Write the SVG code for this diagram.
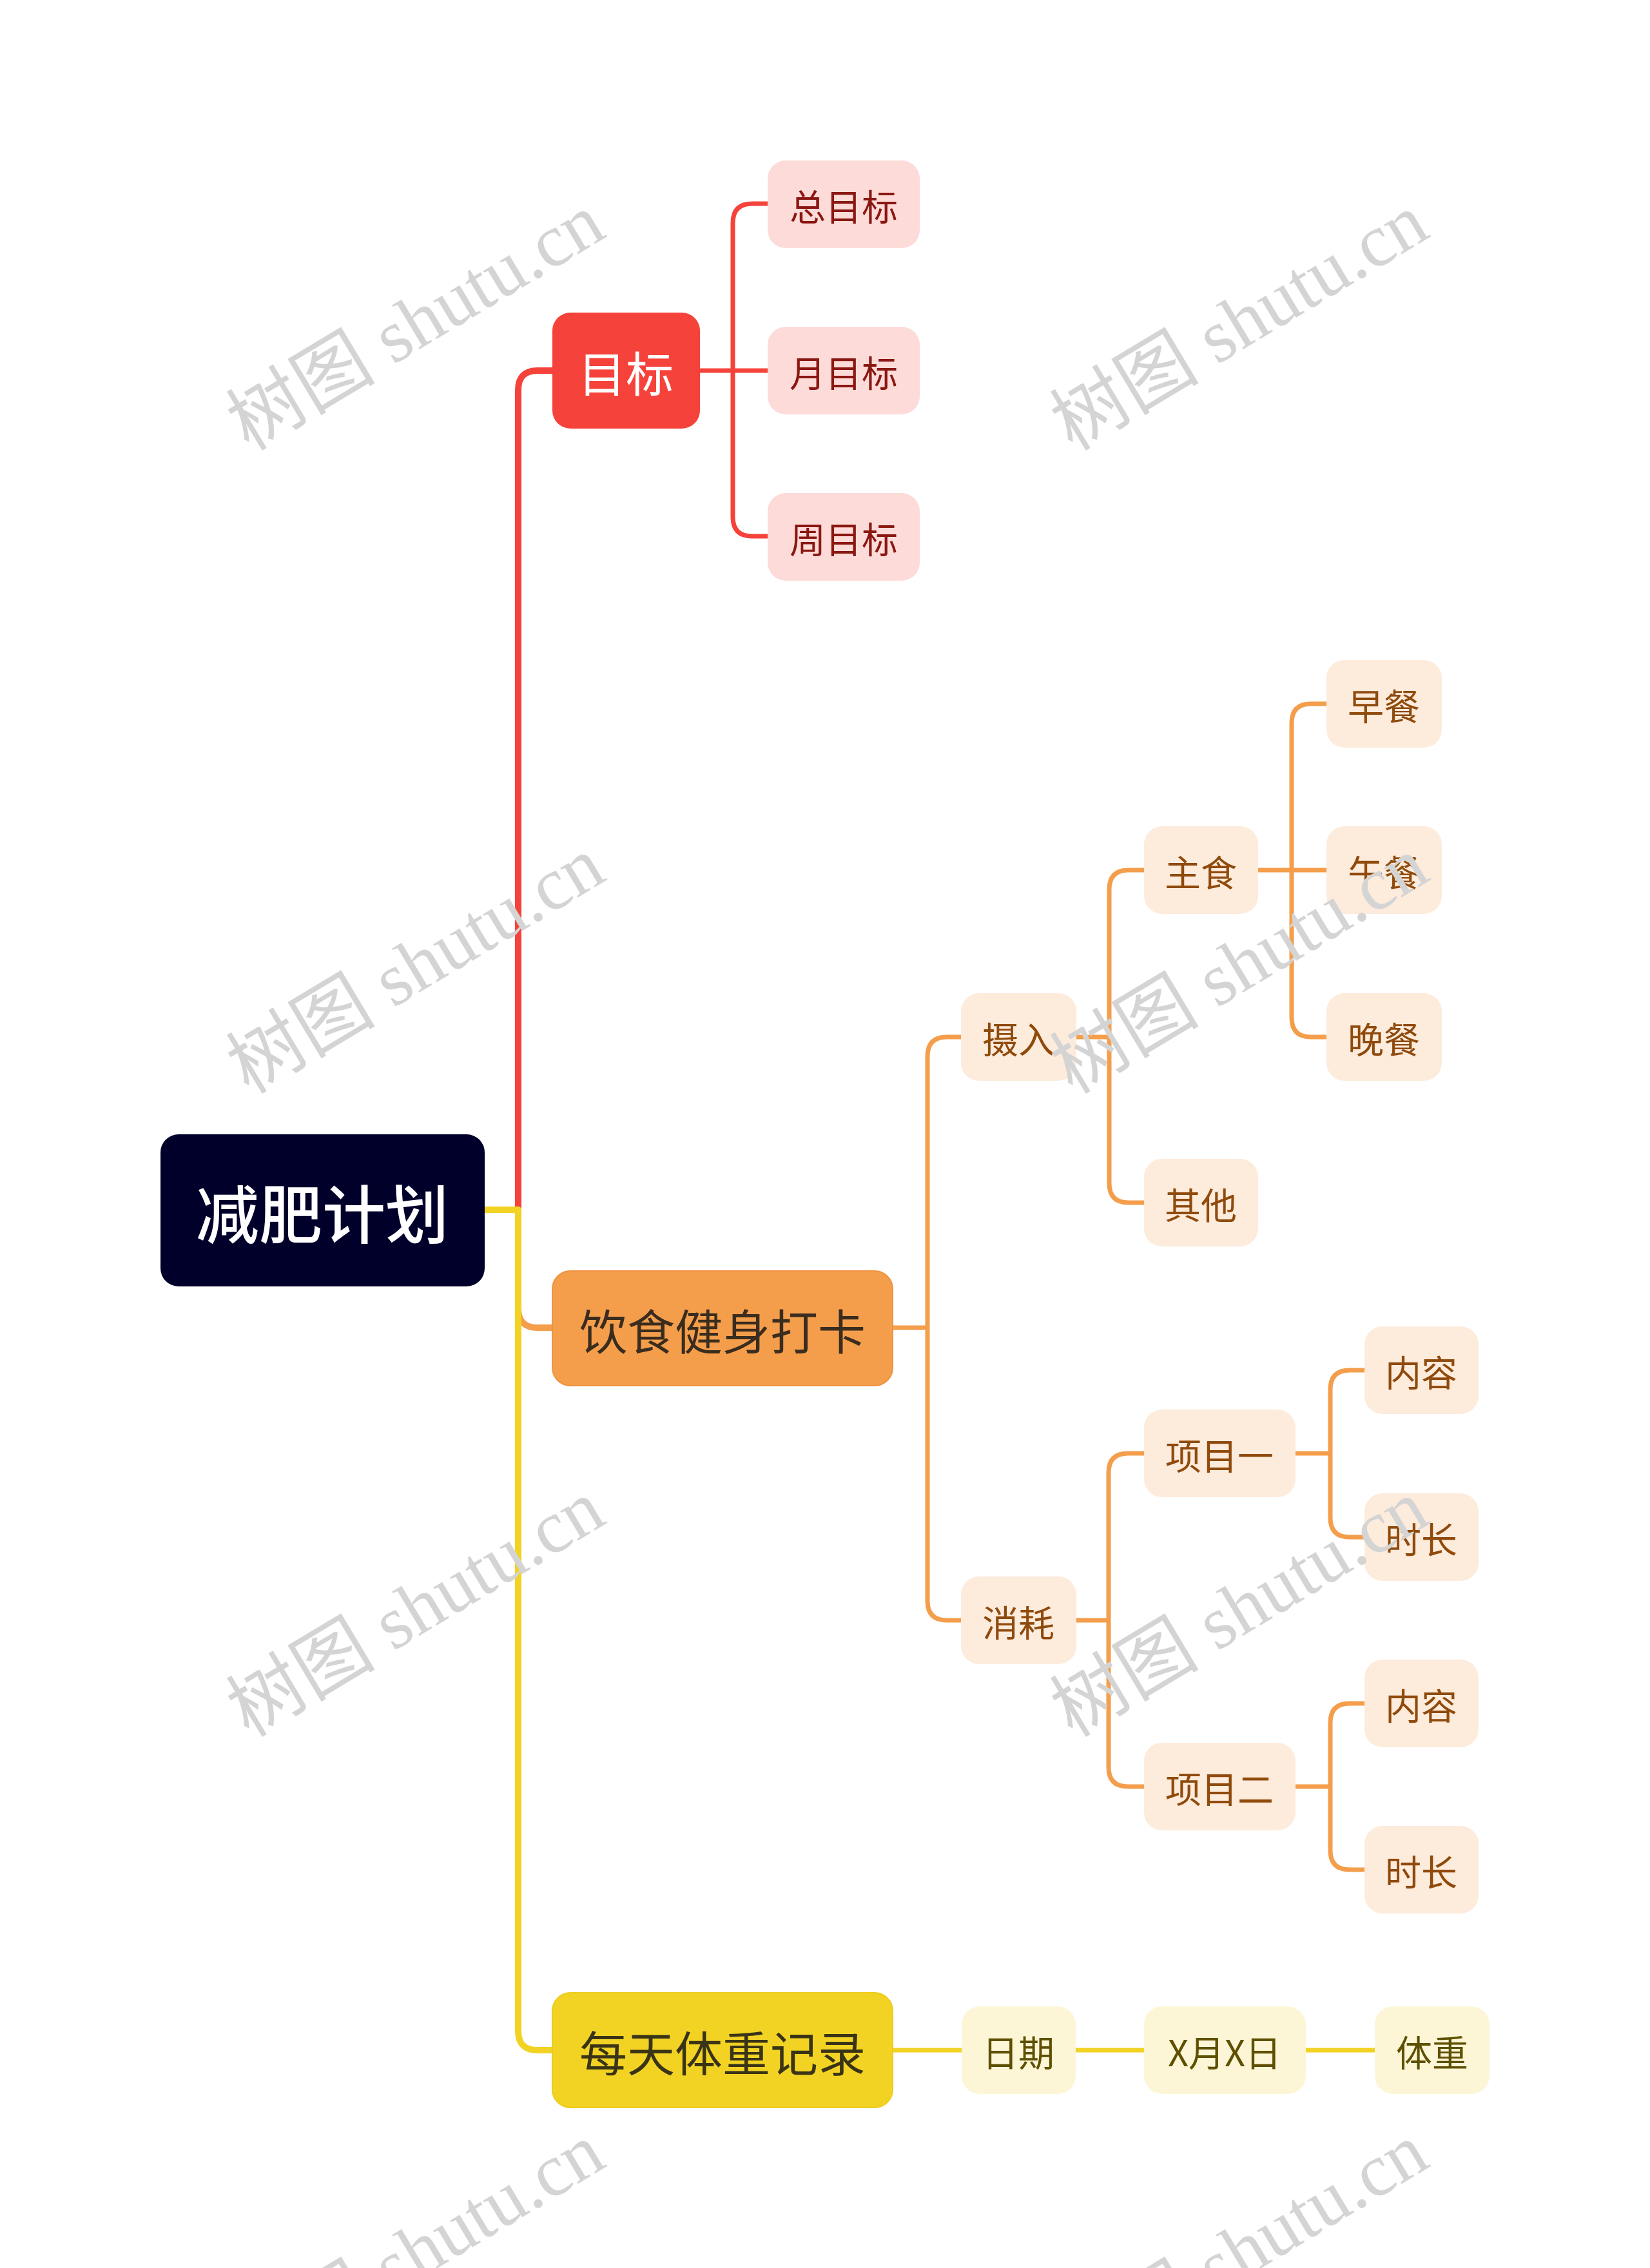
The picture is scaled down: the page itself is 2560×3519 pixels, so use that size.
<svg xmlns="http://www.w3.org/2000/svg" width="2560" height="3519" viewBox="0 0 2560 3519">
<defs>
<style>
.t{font-family:"Noto Sans CJK SC","Noto Sans",sans-serif;text-anchor:middle;dominant-baseline:central}
.l1{font-size:74px}
.l2{font-size:56px}
.wm{font-family:"Liberation Serif","Noto Sans CJK SC",serif;font-size:116px;fill:#d4d4d4}
.c{fill:none;stroke-linecap:butt;stroke-linejoin:round}
.r{stroke:#f5433b}
.o{stroke:#f49e4c}
.y{stroke:#f2d324}
.w1{stroke-width:10}
.w2{stroke-width:7}
.pr{fill:#fddbd9}
.po{fill:#fdebdc}
.py{fill:#fcf6d6}
.tr{fill:#8a1711}
.to{fill:#8f4a0c}
.ty{fill:#5e5000}
</style>
</defs>
<rect width="2560" height="3519" fill="#ffffff"/>
<g id="connectors">
<path class="c r w1" d="M752 1877 H804 V605 Q804 575 834 575 H858"/>
<path class="c o w1" d="M752 1877 H804 V2030 Q804 2060 834 2060 H858"/>
<path class="c y w1" d="M752 1877 H804 V3151 Q804 3181 834 3181 H858"/>
<path class="c r w2" d="M1085 575 H1191 M1137 575 V346 Q1137 316 1167 316 H1191 M1137 575 V802 Q1137 832 1167 832 H1191"/>
<path class="c o w2" d="M1384 2060 H1439 M1439 2060 V1639 Q1439 1609 1469 1609 H1491 M1439 2060 V2484 Q1439 2514 1469 2514 H1491"/>
<path class="c o w2" d="M1669 1609 H1721 M1721 1609 V1380 Q1721 1350 1751 1350 H1775 M1721 1609 V1836 Q1721 1866 1751 1866 H1775"/>
<path class="c o w2" d="M1951 1350 H2058 M2004 1350 V1122 Q2004 1092 2034 1092 H2058 M2004 1350 V1579 Q2004 1609 2034 1609 H2058"/>
<path class="c o w2" d="M1669 2514 H1720 M1720 2514 V2285 Q1720 2255 1750 2255 H1775 M1720 2514 V2742 Q1720 2772 1750 2772 H1775"/>
<path class="c o w2" d="M2009 2255 H2064 M2064 2255 V2156 Q2064 2126 2094 2126 H2117 M2064 2255 V2355 Q2064 2385 2094 2385 H2117"/>
<path class="c o w2" d="M2009 2772 H2064 M2064 2772 V2673 Q2064 2643 2094 2643 H2117 M2064 2772 V2871 Q2064 2901 2094 2901 H2117"/>
<path class="c y w2" d="M1384 3181 H1492 M1668 3181 H1775 M2025 3181 H2133"/>
</g>
<g id="root"><rect x="249" y="1760" width="503" height="236" rx="28" fill="#00002a"/><text class="t" x="500" y="1878" font-size="98" font-weight="500" fill="#ffffff">减肥计划</text></g>
<g id="n-mubiao"><rect x="857" y="485" width="229" height="180" rx="28" fill="#f5433b"/><text class="t l1" x="971" y="575" fill="#ffffff">目标</text></g>
<g id="n-yinshi"><rect x="857" y="1972" width="528" height="178" rx="28" fill="#f49e4c" stroke="#ee9240" stroke-width="2"/><text class="t l1" x="1121" y="2061" fill="#3a2c1e">饮食健身打卡</text></g>
<g id="n-tizhong"><rect x="857" y="3092" width="528" height="178" rx="28" fill="#f2d324" stroke="#eccb1a" stroke-width="2"/><text class="t l1" x="1121" y="3181" fill="#3a3416">每天体重记录</text></g>
<g id="n-zong"><rect class="pr" x="1191" y="249" width="236" height="136" rx="28"/><text class="t l2 tr" x="1309" y="317">总目标</text></g>
<g id="n-yue"><rect class="pr" x="1191" y="507" width="236" height="136" rx="28"/><text class="t l2 tr" x="1309" y="575">月目标</text></g>
<g id="n-zhou"><rect class="pr" x="1191" y="765" width="236" height="136" rx="28"/><text class="t l2 tr" x="1309" y="833">周目标</text></g>
<g id="n-sheru"><rect class="po" x="1491" y="1541" width="179" height="136" rx="28"/><text class="t l2 to" x="1580" y="1609">摄入</text></g>
<g id="n-xiaohao"><rect class="po" x="1491" y="2446" width="179" height="136" rx="28"/><text class="t l2 to" x="1580" y="2514">消耗</text></g>
<g id="n-zhushi"><rect class="po" x="1775" y="1282" width="177" height="136" rx="28"/><text class="t l2 to" x="1863" y="1350">主食</text></g>
<g id="n-qita"><rect class="po" x="1775" y="1798" width="177" height="136" rx="28"/><text class="t l2 to" x="1863" y="1866">其他</text></g>
<g id="n-zaocan"><rect class="po" x="2058" y="1024" width="179" height="136" rx="28"/><text class="t l2 to" x="2147" y="1092">早餐</text></g>
<g id="n-wucan"><rect class="po" x="2058" y="1282" width="179" height="136" rx="28"/><text class="t l2 to" x="2147" y="1350">午餐</text></g>
<g id="n-wancan"><rect class="po" x="2058" y="1541" width="179" height="136" rx="28"/><text class="t l2 to" x="2147" y="1609">晚餐</text></g>
<g id="n-xm1"><rect class="po" x="1775" y="2187" width="235" height="136" rx="28"/><text class="t l2 to" x="1892" y="2255">项目一</text></g>
<g id="n-xm2"><rect class="po" x="1775" y="2704" width="235" height="136" rx="28"/><text class="t l2 to" x="1892" y="2772">项目二</text></g>
<g id="n-nr1"><rect class="po" x="2117" y="2058" width="177" height="136" rx="28"/><text class="t l2 to" x="2205" y="2126">内容</text></g>
<g id="n-sc1"><rect class="po" x="2117" y="2317" width="177" height="136" rx="28"/><text class="t l2 to" x="2205" y="2385">时长</text></g>
<g id="n-nr2"><rect class="po" x="2117" y="2575" width="177" height="136" rx="28"/><text class="t l2 to" x="2205" y="2643">内容</text></g>
<g id="n-sc2"><rect class="po" x="2117" y="2833" width="177" height="136" rx="28"/><text class="t l2 to" x="2205" y="2901">时长</text></g>
<g id="n-riqi"><rect class="py" x="1492" y="3113" width="177" height="136" rx="28"/><text class="t l2 ty" x="1580" y="3181">日期</text></g>
<g id="n-xyxr"><rect class="py" x="1775" y="3113" width="251" height="136" rx="28"/><text class="t l2 ty" x="1900" y="3181">X月X日</text></g>
<g id="n-tz"><rect class="py" x="2133" y="3113" width="178" height="136" rx="28"/><text class="t l2 ty" x="2222" y="3181">体重</text></g>
<g id="watermarks">
<text class="wm" x="386" y="701" transform="rotate(-31 386 701)">树图 shutu.cn</text>
<text class="wm" x="1664" y="701" transform="rotate(-31 1664 701)">树图 shutu.cn</text>
<text class="wm" x="386" y="1699" transform="rotate(-31 386 1699)">树图 shutu.cn</text>
<text class="wm" x="1664" y="1699" transform="rotate(-31 1664 1699)">树图 shutu.cn</text>
<text class="wm" x="386" y="2697" transform="rotate(-31 386 2697)">树图 shutu.cn</text>
<text class="wm" x="1664" y="2697" transform="rotate(-31 1664 2697)">树图 shutu.cn</text>
<text class="wm" x="386" y="3695" transform="rotate(-31 386 3695)">树图 shutu.cn</text>
<text class="wm" x="1664" y="3695" transform="rotate(-31 1664 3695)">树图 shutu.cn</text>
</g>
</svg>
